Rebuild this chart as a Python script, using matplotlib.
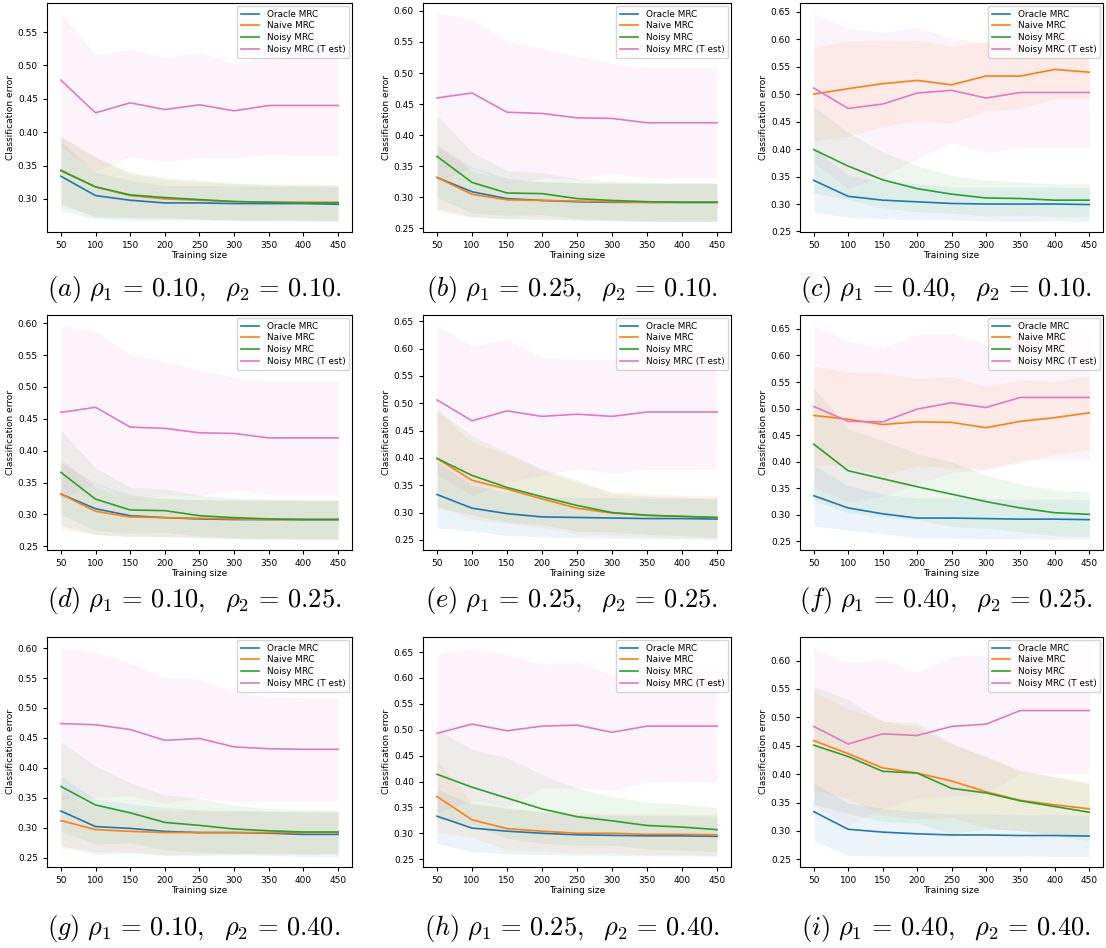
import matplotlib
matplotlib.use("Agg")
import matplotlib.pyplot as plt

plt.rcParams['mathtext.fontset'] = 'cm'

sizes = [50, 100, 150, 200, 250, 300, 350, 400, 450]
labels = ['Oracle MRC', 'Naive MRC', 'Noisy MRC', 'Noisy MRC (T est)']
colors = ['#1f77b4', '#ff7f0e', '#2ca02c', '#e377c2']
captions = [r'$(a)\ \rho_1\,=\,0.10,\ \ \rho_2\,=\,0.10.$',
            r'$(b)\ \rho_1\,=\,0.25,\ \ \rho_2\,=\,0.10.$',
            r'$(c)\ \rho_1\,=\,0.40,\ \ \rho_2\,=\,0.10.$',
            r'$(d)\ \rho_1\,=\,0.10,\ \ \rho_2\,=\,0.25.$',
            r'$(e)\ \rho_1\,=\,0.25,\ \ \rho_2\,=\,0.25.$',
            r'$(f)\ \rho_1\,=\,0.40,\ \ \rho_2\,=\,0.25.$',
            r'$(g)\ \rho_1\,=\,0.10,\ \ \rho_2\,=\,0.40.$',
            r'$(h)\ \rho_1\,=\,0.25,\ \ \rho_2\,=\,0.40.$',
            r'$(i)\ \rho_1\,=\,0.40,\ \ \rho_2\,=\,0.40.$']

# mean error per panel: oracle, naive, noisy, noisy (T est)
mean_a = [[0.334, 0.305, 0.298, 0.294, 0.294, 0.293, 0.293, 0.293, 0.292],
          [0.342, 0.318, 0.305, 0.300, 0.298, 0.296, 0.295, 0.295, 0.295],
          [0.343, 0.318, 0.306, 0.302, 0.299, 0.296, 0.295, 0.294, 0.294],
          [0.478, 0.429, 0.444, 0.434, 0.441, 0.432, 0.440, 0.440, 0.440]]
std_a = [[0.052, 0.035, 0.030, 0.026, 0.026, 0.026, 0.026, 0.026, 0.026],
         [0.052, 0.044, 0.033, 0.029, 0.028, 0.027, 0.026, 0.026, 0.026],
         [0.050, 0.045, 0.034, 0.030, 0.029, 0.028, 0.027, 0.027, 0.027],
         [0.100, 0.087, 0.081, 0.078, 0.079, 0.071, 0.073, 0.075, 0.075]]

mean_b = [[0.332, 0.309, 0.298, 0.295, 0.293, 0.292, 0.292, 0.292, 0.292],
          [0.332, 0.305, 0.296, 0.295, 0.294, 0.293, 0.292, 0.292, 0.292],
          [0.366, 0.324, 0.307, 0.306, 0.298, 0.295, 0.293, 0.292, 0.292],
          [0.460, 0.468, 0.437, 0.435, 0.428, 0.427, 0.420, 0.420, 0.420]]
std_b = [[0.050, 0.040, 0.033, 0.030, 0.030, 0.030, 0.030, 0.030, 0.030],
         [0.055, 0.037, 0.030, 0.030, 0.030, 0.031, 0.031, 0.031, 0.031],
         [0.066, 0.049, 0.036, 0.034, 0.032, 0.031, 0.031, 0.031, 0.031],
         [0.136, 0.119, 0.114, 0.105, 0.099, 0.088, 0.089, 0.089, 0.089]]

mean_c = [[0.343, 0.314, 0.307, 0.304, 0.301, 0.300, 0.300, 0.300, 0.299],
          [0.500, 0.510, 0.519, 0.525, 0.517, 0.533, 0.533, 0.545, 0.540],
          [0.399, 0.369, 0.344, 0.328, 0.318, 0.311, 0.310, 0.307, 0.307],
          [0.511, 0.474, 0.482, 0.502, 0.507, 0.493, 0.503, 0.503, 0.503]]
std_c = [[0.058, 0.038, 0.034, 0.033, 0.030, 0.031, 0.031, 0.031, 0.031],
         [0.085, 0.087, 0.078, 0.073, 0.070, 0.064, 0.059, 0.053, 0.048],
         [0.079, 0.061, 0.051, 0.042, 0.034, 0.033, 0.030, 0.030, 0.030],
         [0.136, 0.146, 0.131, 0.120, 0.095, 0.100, 0.100, 0.100, 0.100]]

# panel (d) shows the same curves as panel (b)
mean_d = mean_b
std_d = std_b

mean_e = [[0.333, 0.308, 0.298, 0.292, 0.291, 0.290, 0.289, 0.289, 0.288],
          [0.399, 0.359, 0.343, 0.325, 0.308, 0.299, 0.295, 0.293, 0.291],
          [0.399, 0.368, 0.346, 0.329, 0.313, 0.300, 0.295, 0.293, 0.291],
          [0.506, 0.468, 0.486, 0.476, 0.480, 0.476, 0.484, 0.484, 0.484]]
std_e = [[0.061, 0.042, 0.040, 0.037, 0.037, 0.037, 0.037, 0.037, 0.037],
         [0.088, 0.071, 0.063, 0.052, 0.047, 0.040, 0.040, 0.039, 0.040],
         [0.090, 0.072, 0.064, 0.051, 0.047, 0.035, 0.035, 0.035, 0.036],
         [0.136, 0.137, 0.131, 0.108, 0.100, 0.104, 0.105, 0.105, 0.105]]

mean_f = [[0.336, 0.313, 0.302, 0.294, 0.294, 0.293, 0.292, 0.292, 0.291],
          [0.487, 0.480, 0.470, 0.475, 0.474, 0.464, 0.476, 0.483, 0.492],
          [0.433, 0.383, 0.368, 0.353, 0.339, 0.325, 0.313, 0.304, 0.301],
          [0.504, 0.476, 0.475, 0.499, 0.511, 0.502, 0.521, 0.521, 0.521]]
std_f = [[0.057, 0.042, 0.037, 0.038, 0.038, 0.038, 0.037, 0.038, 0.037],
         [0.093, 0.089, 0.097, 0.082, 0.086, 0.078, 0.078, 0.068, 0.070],
         [0.106, 0.079, 0.072, 0.062, 0.061, 0.050, 0.045, 0.043, 0.042],
         [0.152, 0.152, 0.140, 0.141, 0.131, 0.118, 0.118, 0.118, 0.118]]

mean_g = [[0.328, 0.302, 0.299, 0.294, 0.292, 0.292, 0.291, 0.289, 0.289],
          [0.312, 0.297, 0.294, 0.292, 0.292, 0.292, 0.292, 0.292, 0.292],
          [0.369, 0.338, 0.325, 0.309, 0.304, 0.298, 0.295, 0.293, 0.293],
          [0.474, 0.472, 0.464, 0.446, 0.449, 0.435, 0.432, 0.431, 0.431]]
std_g = [[0.058, 0.046, 0.041, 0.040, 0.038, 0.037, 0.037, 0.037, 0.037],
         [0.046, 0.037, 0.034, 0.037, 0.036, 0.036, 0.036, 0.036, 0.036],
         [0.075, 0.065, 0.050, 0.046, 0.045, 0.040, 0.037, 0.037, 0.036],
         [0.127, 0.121, 0.111, 0.105, 0.099, 0.092, 0.087, 0.086, 0.086]]

mean_h = [[0.333, 0.310, 0.304, 0.300, 0.297, 0.296, 0.295, 0.295, 0.294],
          [0.371, 0.326, 0.309, 0.304, 0.300, 0.300, 0.298, 0.298, 0.297],
          [0.414, 0.389, 0.368, 0.347, 0.332, 0.324, 0.315, 0.312, 0.307],
          [0.493, 0.511, 0.498, 0.507, 0.509, 0.495, 0.507, 0.507, 0.507]]
std_h = [[0.053, 0.046, 0.044, 0.041, 0.039, 0.039, 0.039, 0.039, 0.039],
         [0.070, 0.034, 0.041, 0.038, 0.040, 0.038, 0.040, 0.039, 0.040],
         [0.086, 0.073, 0.078, 0.066, 0.055, 0.047, 0.045, 0.045, 0.042],
         [0.153, 0.148, 0.147, 0.120, 0.122, 0.112, 0.108, 0.107, 0.108]]

mean_i = [[0.334, 0.303, 0.298, 0.295, 0.293, 0.293, 0.292, 0.292, 0.291],
          [0.459, 0.436, 0.411, 0.402, 0.388, 0.369, 0.354, 0.346, 0.339],
          [0.451, 0.431, 0.405, 0.402, 0.375, 0.367, 0.353, 0.343, 0.333],
          [0.484, 0.453, 0.471, 0.468, 0.484, 0.488, 0.512, 0.512, 0.512]]
std_i = [[0.051, 0.046, 0.042, 0.039, 0.037, 0.037, 0.036, 0.037, 0.036],
         [0.087, 0.079, 0.083, 0.081, 0.064, 0.063, 0.054, 0.050, 0.048],
         [0.104, 0.100, 0.088, 0.088, 0.080, 0.063, 0.052, 0.052, 0.050],
         [0.138, 0.143, 0.131, 0.111, 0.124, 0.122, 0.111, 0.111, 0.111]]

means = [mean_a, mean_b, mean_c, mean_d, mean_e, mean_f, mean_g, mean_h, mean_i]
stds = [std_a, std_b, std_c, std_d, std_e, std_f, std_g, std_h, std_i]

W, H = 1106, 948
fig = plt.figure(figsize=(W / 100, H / 100), dpi=100)

col_left = [47, 423, 800]
col_right = [352, 731, 1103]
row_top = [3, 315, 637]
row_bottom = [232, 550, 867]
cap_y = [290, 600, 928]

for k in range(9):
    r, c = divmod(k, 3)
    l, rt = col_left[c], col_right[c]
    t, b = row_top[r], row_bottom[r]
    ax = fig.add_axes([l / W, 1 - b / H, (rt - l) / W, (b - t) / H])
    for j in range(4):
        m = means[k][j]
        s = stds[k][j]
        lo = [mi - si for mi, si in zip(m, s)]
        hi = [mi + si for mi, si in zip(m, s)]
        ax.plot(sizes, m, color=colors[j], lw=1.2, label=labels[j])
        ax.fill_between(sizes, lo, hi, color=colors[j], alpha=0.08, lw=0)
    ax.set_xticks(sizes)
    ax.tick_params(labelsize=6.5, length=3, width=0.8)
    ax.set_xlabel('Training size', fontsize=6.5, labelpad=1)
    ax.set_ylabel('Classification error', fontsize=6.5, labelpad=2)
    ax.legend(loc='upper right', fontsize=6.4, handlelength=2.1, borderpad=0.45,
              labelspacing=0.3, borderaxespad=0.3, framealpha=0.8)
    fig.text((l + rt) / 2 / W - 0.005, 1 - cap_y[r] / H, captions[k],
             fontsize=19, ha='center', va='center')

fig.savefig('out.png', dpi=100)
